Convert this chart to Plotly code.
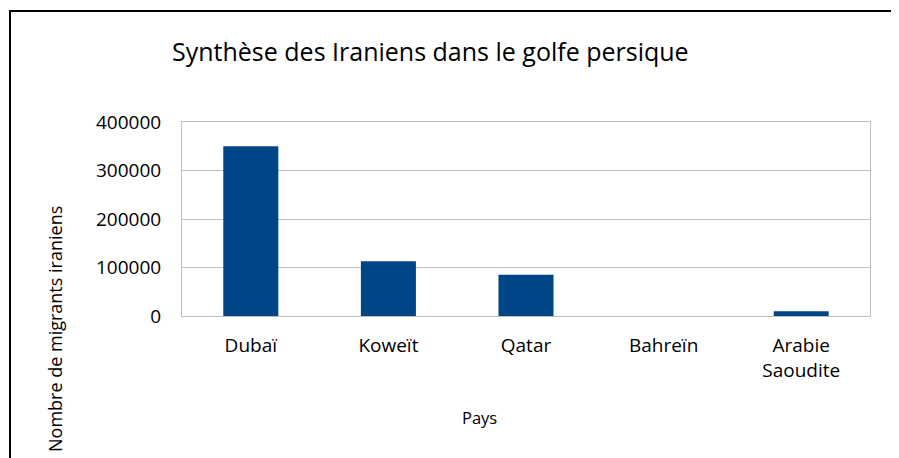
import plotly.graph_objects as go

categories = ["Dubaï", "Koweït", "Qatar", "Bahreïn", "Arabie<br>Saoudite"]
values = [350000, 113000, 85000, 0, 10000]
y_ticks = [0, 100000, 200000, 300000, 400000]

FONT = "Open Sans, Liberation Sans, sans-serif"
OFF = 8  # page body offset
L, R, T, B = 182 - OFF, 870 - OFF, 122 - OFF, 316 - OFF
W, H = 899 - OFF, 458 - OFF
pw, ph = R - L, B - T

def px(x):
    return (x - OFF - L) / pw

def py(y):
    return (B - (y - OFF)) / ph

fig = go.Figure(go.Bar(x=categories, y=values, marker=dict(color="#004586", line=dict(width=0)), width=0.4))

fig.update_layout(
    width=W, height=H,
    margin=dict(l=L, r=W - R, t=T, b=H - B, autoexpand=False),
    paper_bgcolor="white", plot_bgcolor="white",
    showlegend=False,
    font=dict(family=FONT, size=19, color="#000000"),
    title=dict(text="Synthèse des Iraniens dans le golfe persique", x=(172 - OFF) / W, xanchor="left",
               y=1 - (52 - OFF) / H, yanchor="middle", font=dict(family=FONT, size=25, color="#000000")),
)
fig.update_xaxes(showline=True, linecolor="#BFBFBF", linewidth=1, mirror=True, showgrid=False,
                 ticks="outside", ticklen=0, tickfont=dict(size=19, color="#000000"),
                 ticklabelstandoff=12)
fig.update_yaxes(range=[0, 400000], tickvals=y_ticks, ticktext=[str(v) for v in y_ticks],
                 showline=True, linecolor="#BFBFBF", linewidth=1, mirror=True,
                 showgrid=True, gridcolor="#BFBFBF", gridwidth=1, zeroline=False,
                 tickfont=dict(size=19, color="#000000"), ticklabelstandoff=16)

fig.add_annotation(text="Nombre de migrants iraniens", xref="paper", yref="paper",
                   x=px(55), y=py(329), textangle=-90, showarrow=False,
                   font=dict(family=FONT, size=18, color="#000000"), xanchor="center", yanchor="middle")
fig.add_annotation(text="Pays", xref="paper", yref="paper", x=px(479), y=py(417),
                   showarrow=False, font=dict(family=FONT, size=16.5, color="#000000"),
                   xanchor="center", yanchor="middle")

# chart frame: top and left edges (right and bottom edges lie outside the picture)
fig.add_shape(type="line", xref="paper", yref="paper", x0=px(9), x1=px(920), y0=py(11), y1=py(11),
              line=dict(color="#000000", width=2), layer="below")
fig.add_shape(type="line", xref="paper", yref="paper", x0=px(10), x1=px(10), y0=py(10), y1=py(475),
              line=dict(color="#000000", width=2), layer="below")

fig.write_html("out.html")
